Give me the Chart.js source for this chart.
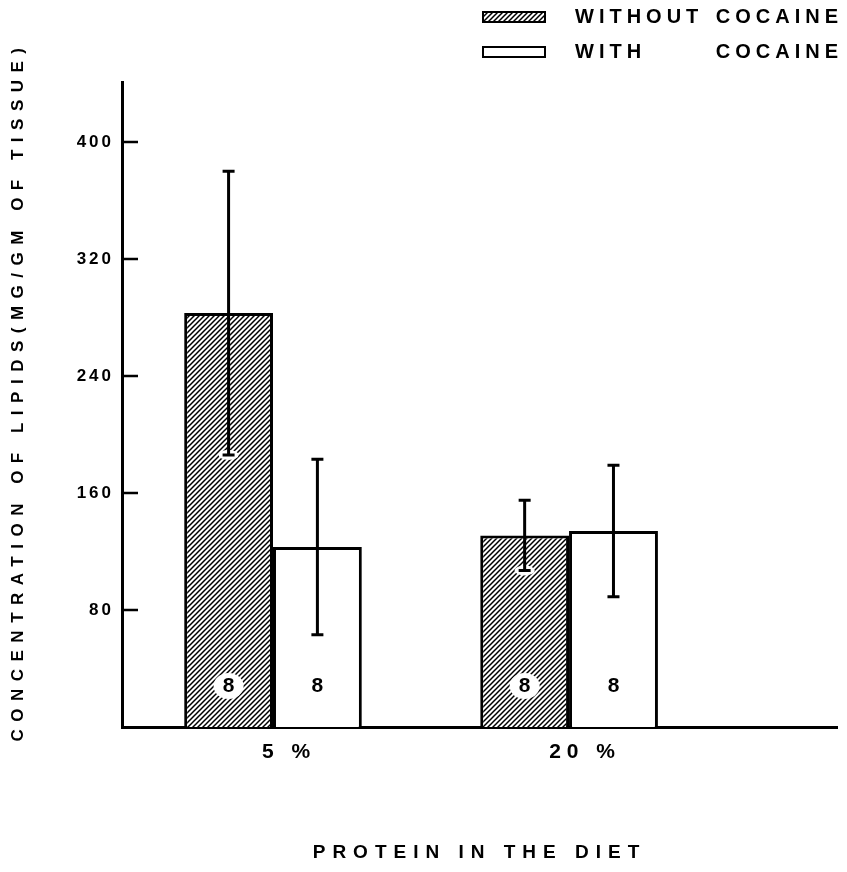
<!DOCTYPE html>
<html lang="en">
<head>
<meta charset="UTF-8">
<title>Lipids vs protein in the diet</title>
<script src="https://cdn.jsdelivr.net/npm/chart.js"></script>
<style>
    body { margin: 0; background: #fff; }
    .wrap { width: 847px; height: 872px; position: relative; }
</style>
</head>
<body>
<div class="wrap"><canvas id="lipidChart"></canvas></div>
<script>
const categories = ['5 %', '20 %'];
const seriesNames = ['WITHOUT COCAINE', 'WITH COCAINE'];
const withoutCocaine = [283, 131];
const withCocaine = [123, 134];
const withoutCocaineErr = [97, 24];
const withCocaineErr = [60, 45];
const withoutCocaineN = [8, 8];
const withCocaineN = [8, 8];
const yTicks = [80, 160, 240, 320, 400];
const yTitle = 'CONCENTRATION OF LIPIDS(MG/GM OF TISSUE)';
const xTitle = 'PROTEIN IN THE DIET';

const FONT = '"Liberation Sans", Arial, sans-serif';

const canvas = document.getElementById('lipidChart');
const ctx = canvas.getContext('2d');

// diagonal //// hatching for the "without" bars
function makeHatch() {
    const c = document.createElement('canvas');
    c.width = 5; c.height = 5;
    const g = c.getContext('2d');
    g.fillStyle = '#fff';
    g.fillRect(0, 0, 5, 5);
    g.strokeStyle = '#000';
    g.lineWidth = 1.5;
    g.beginPath();
    g.moveTo(-1, 6); g.lineTo(6, -1);
    g.moveTo(-1, 1); g.lineTo(1, -1);
    g.moveTo(4, 6); g.lineTo(6, 4);
    g.stroke();
    return ctx.createPattern(c, 'repeat');
}
const hatch = makeHatch();

// category i sits at x = i + 1 on a linear axis
const toPoints = vals => vals.map((v, i) => ({ x: i + 1, y: v }));

const spacing = {
    id: 'spacing',
    beforeDraw(chart) { chart.ctx.letterSpacing = '3px'; }
};

const extras = {
    id: 'extras',
    afterDatasetsDraw(chart) {
        const c = chart.ctx;
        const y = chart.scales.y;
        const errs = [withoutCocaineErr, withCocaineErr];
        const ns = [withoutCocaineN, withCocaineN];
        c.save();
        chart.data.datasets.forEach((ds, di) => {
            chart.getDatasetMeta(di).data.forEach((bar, i) => {
                const v = ds.data[i].y;
                const top = y.getPixelForValue(v + errs[di][i]);
                const bot = y.getPixelForValue(v - errs[di][i]);
                if (di === 0) {
                    c.fillStyle = '#fff';
                    c.beginPath();
                    c.ellipse(bar.x, bot, 10, 5, 0, 0, Math.PI * 2);
                    c.fill();
                }
                c.strokeStyle = '#000';
                c.lineWidth = 3;
                c.beginPath();
                c.moveTo(bar.x, top); c.lineTo(bar.x, bot);
                c.moveTo(bar.x - 6, top); c.lineTo(bar.x + 6, top);
                c.moveTo(bar.x - 6, bot); c.lineTo(bar.x + 6, bot);
                c.stroke();

                const ny = y.getPixelForValue(0) - 41;
                if (di === 0) {
                    c.fillStyle = '#fff';
                    c.beginPath();
                    c.ellipse(bar.x, ny, 15, 13, 0, 0, Math.PI * 2);
                    c.fill();
                }
                c.fillStyle = '#000';
                c.font = 'bold 21px ' + FONT;
                c.letterSpacing = '0px';
                c.textAlign = 'center';
                c.textBaseline = 'middle';
                c.fillText(String(ns[di][i]), bar.x, ny);
            });
        });
        c.restore();
    },
    afterDraw(chart) {
        const c = chart.ctx;
        const area = chart.chartArea;
        const x = chart.scales.x;
        const y = chart.scales.y;
        c.save();
        // inward tick marks
        c.strokeStyle = '#000';
        c.lineWidth = 2.5;
        c.beginPath();
        yTicks.forEach(v => {
            const py = y.getPixelForValue(v);
            c.moveTo(area.left, py);
            c.lineTo(area.left + 16, py);
        });
        c.stroke();

        c.fillStyle = '#000';
        c.textBaseline = 'middle';
        c.textAlign = 'center';

        // category labels under the groups
        c.font = 'bold 21px ' + FONT;
        c.letterSpacing = '6px';
        categories.forEach((label, i) => {
            c.fillText(label, x.getPixelForValue(i + 1) + 16, area.bottom + 25);
        });

        // y title
        c.font = 'bold 17px ' + FONT;
        c.letterSpacing = '7.5px';
        c.save();
        c.translate(18, 391);
        c.rotate(-Math.PI / 2);
        c.fillText(yTitle, 0, 0);
        c.restore();

        // x title
        c.font = 'bold 19px ' + FONT;
        c.letterSpacing = '7px';
        c.fillText(xTitle, (area.left + area.right) / 2, 853);

        // legend
        const rowY = [17, 52];
        c.font = 'bold 20px ' + FONT;
        c.letterSpacing = '5px';
        seriesNames.forEach((name, i) => {
            const words = name.split(' ');
            c.fillStyle = i === 0 ? hatch : '#fff';
            c.fillRect(483, rowY[i] - 5, 62, 10);
            c.strokeStyle = '#000';
            c.lineWidth = 2;
            c.strokeRect(483, rowY[i] - 5, 62, 10);
            c.fillStyle = '#000';
            c.textAlign = 'left';
            c.fillText(words[0], 575, rowY[i]);
            c.textAlign = 'right';
            c.fillText(words[words.length - 1], 843, rowY[i]);
        });
        c.restore();
    }
};

new Chart(ctx, {
    type: 'bar',
    data: {
        datasets: [
            {
                label: seriesNames[0],
                data: toPoints(withoutCocaine),
                backgroundColor: hatch,
                borderColor: '#000',
                borderWidth: 3,
                categoryPercentage: 0.6,
                barPercentage: 1
            },
            {
                label: seriesNames[1],
                data: toPoints(withCocaine),
                backgroundColor: '#fff',
                borderColor: '#000',
                borderWidth: 3,
                categoryPercentage: 0.6,
                barPercentage: 1
            }
        ]
    },
    options: {
        responsive: true,
        maintainAspectRatio: false,
        devicePixelRatio: 1,
        animation: false,
        layout: { padding: { top: 82, right: 10, left: 0, bottom: 0 } },
        plugins: {
            legend: { display: false },
            tooltip: { enabled: false }
        },
        scales: {
            x: {
                type: 'linear',
                min: 0.49,
                max: 2.905,
                offset: false,
                grid: { display: false, drawTicks: false },
                border: { color: '#000', width: 3 },
                afterBuildTicks: s => { s.ticks = categories.map((_, i) => ({ value: i + 1 })); },
                afterFit: s => { s.height = 145; },
                ticks: { display: false }
            },
            y: {
                min: 0,
                max: 441,
                grid: { display: false, drawTicks: false },
                border: { color: '#000', width: 3 },
                afterBuildTicks: s => { s.ticks = yTicks.map(v => ({ value: v })); },
                afterFit: s => { s.width = 122; },
                ticks: {
                    padding: 8,
                    color: '#000',
                    font: { family: FONT, size: 17, weight: 'bold' }
                }
            }
        }
    },
    plugins: [spacing, extras]
});
</script>
</body>
</html>
